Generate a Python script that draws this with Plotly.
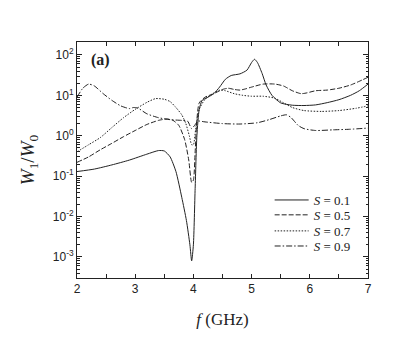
import plotly.graph_objects as go

# S = 0.1
x1 = [2.0, 2.3, 2.6, 2.9, 3.2, 3.4, 3.5, 3.6, 3.7, 3.8, 3.88, 3.94, 3.97, 4.0, 4.03, 4.06, 4.1, 4.15, 4.25,
      4.35, 4.45, 4.55, 4.65, 4.8, 4.92, 5.0, 5.05, 5.1, 5.18, 5.25, 5.35, 5.5, 5.7, 5.9, 6.1, 6.3, 6.5, 6.7, 6.85, 7.0]
y1 = [0.13, 0.15, 0.19, 0.25, 0.35, 0.43, 0.42, 0.3, 0.13, 0.03, 0.008, 0.002, 0.0008, 0.002, 0.05, 1.0, 4.5, 7.5, 9,
      11, 16, 25, 31, 34, 42, 65, 78, 65, 35, 18, 10, 6.5, 5.7, 5.6, 5.8, 6.6, 7.8, 10, 13, 19]

# S = 0.5
x2 = [2.0, 2.2, 2.4, 2.6, 2.8, 3.0, 3.2, 3.4, 3.55, 3.65, 3.75, 3.85, 3.92, 3.97, 4.0, 4.03, 4.06, 4.1, 4.2,
      4.35, 4.5, 4.6, 4.7, 4.8, 4.9, 5.0, 5.2, 5.4, 5.55, 5.7, 5.85, 5.95, 6.1, 6.3, 6.5, 6.7, 6.9, 7.0]
y2 = [0.22, 0.3, 0.45, 0.65, 0.95, 1.35, 1.9, 2.4, 2.6, 2.4, 1.8, 0.8, 0.25, 0.07, 0.08, 0.4, 2.5, 6.5, 9,
      11, 14, 15, 14, 13.5, 14.5, 16, 19, 19, 17, 13, 11, 11.5, 13, 13.5, 15, 18, 24, 28]

# S = 0.7
x3 = [2.0, 2.2, 2.4, 2.6, 2.8, 3.0, 3.2, 3.35, 3.5, 3.6, 3.7, 3.8, 3.87, 3.93, 3.97, 4.0, 4.04, 4.1, 4.2,
      4.35, 4.45, 4.55, 4.7, 4.85, 5.0, 5.2, 5.4, 5.55, 5.7, 5.9, 6.2, 6.5, 6.8, 7.0]
y3 = [0.4, 0.6, 0.9, 1.6, 2.8, 4.5, 6.7, 8.3, 8, 7, 5, 3.3, 2.0, 1.0, 0.6, 0.6, 1.5, 4.5, 8,
      11.5, 13.5, 13, 11, 10, 9.5, 9.5, 8.5, 6.5, 5, 4.2, 4.0, 4.2, 4.8, 5.5]

# S = 0.9
x4 = [2.0, 2.1, 2.2, 2.3, 2.45, 2.6, 2.75, 2.9, 2.97, 3.05, 3.2, 3.4, 3.6, 3.8, 3.9, 3.97, 4.02, 4.08, 4.2,
      4.5, 4.8, 5.1, 5.3, 5.5, 5.6, 5.68, 5.8, 5.9, 6.1, 6.4, 6.7, 7.0]
y4 = [9, 15, 19, 17, 11, 7.5, 5.5, 4.7, 5.0, 4.8, 3.5, 2.8, 2.5, 2.4, 2.3, 1.5, 1.8, 2.3, 2.2,
      2.0, 1.95, 2.1, 2.5, 3.1, 3.3, 2.8, 1.8, 1.5, 1.35, 1.4, 1.45, 1.55]

names = ["<i>S</i> = 0.1", "<i>S</i> = 0.5", "<i>S</i> = 0.7", "<i>S</i> = 0.9"]
dashes = ["solid", "5px,2px", "1.5px,1.5px", "6px,2px,1.5px,2px"]

ytick_vals = [1e-3, 1e-2, 1e-1, 1, 10, 100]
ytick_text = ["10<sup>-3</sup>", "10<sup>-2</sup>", "10<sup>-1</sup>", "10<sup>0</sup>", "10<sup>1</sup>", "10<sup>2</sup>"]
yminor_vals = [m * 10.0 ** e for e in range(-4, 3) for m in range(2, 10)]

serif = "Liberation Serif, Times New Roman, serif"
legend_ids = ["legend", "legend2", "legend3", "legend4"]
legend_ys = [0.394, 0.331, 0.263, 0.199]

fig = go.Figure()
for xs, ys, nm, ds, lg in zip([x1, x2, x3, x4], [y1, y2, y3, y4], names, dashes, legend_ids):
    fig.add_trace(go.Scatter(x=xs, y=ys, mode="lines", name=nm, legend=lg,
                             line=dict(color="#222222", width=1.0, dash=ds, shape="spline", smoothing=0.6)))

legend_common = dict(x=0.662, xanchor="left", yanchor="top", bgcolor="rgba(0,0,0,0)",
                     font=dict(family=serif, size=13, color="#222222"), itemwidth=34)
fig.update_layout(
    width=415, height=350,
    margin=dict(l=69, r=55, t=34, b=80),
    paper_bgcolor="white", plot_bgcolor="white",
    font=dict(family="Liberation Sans, Arial, sans-serif", size=12, color="#222222"),
    showlegend=True,
    legend=dict(y=legend_ys[0], **legend_common),
    legend2=dict(y=legend_ys[1], **legend_common),
    legend3=dict(y=legend_ys[2], **legend_common),
    legend4=dict(y=legend_ys[3], **legend_common),
)
fig.update_xaxes(
    range=[2, 7], tickvals=[2, 3, 4, 5, 6, 7], ticks="inside", ticklen=4, tickcolor="#222222",
    showline=True, linecolor="#222222", linewidth=1, mirror="ticks", showgrid=False, zeroline=False,
    minor=dict(tickvals=[2.5, 3.5, 4.5, 5.5, 6.5], ticks="inside", ticklen=4, tickcolor="#222222", showgrid=False),
    title=dict(text="<i>f</i> (GHz)", font=dict(family=serif, size=17), standoff=17),
    tickfont=dict(size=12),
)
fig.update_yaxes(
    type="log", range=[-3.52, 2.32], tickmode="array", tickvals=ytick_vals, ticktext=ytick_text,
    ticks="inside", ticklen=5, tickcolor="#222222",
    showline=True, linecolor="#222222", linewidth=1, mirror="ticks", showgrid=False, zeroline=False,
    minor=dict(tickmode="array", tickvals=yminor_vals, ticks="inside", ticklen=2.5, tickcolor="#222222", showgrid=False),
    title=dict(text="<i>W</i><sub>1</sub>/<i>W</i><sub>0</sub>", font=dict(family=serif, size=19), standoff=13),
    tickfont=dict(size=12),
)
fig.add_annotation(text="<b>(a)</b>", xref="paper", yref="paper", x=0.04, y=0.925, xanchor="left", yanchor="middle",
                   showarrow=False, font=dict(family=serif, size=16, color="#222222"))

fig.write_html("out.html")
